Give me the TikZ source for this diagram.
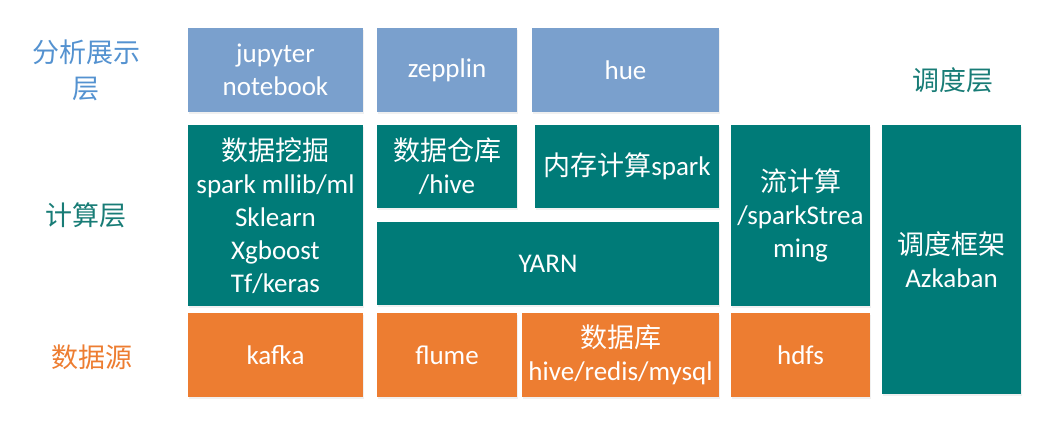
\documentclass[tikz,border=0pt]{standalone}
\usepackage{fontspec}
\setmainfont{Carlito}
\newfontfamily\cjk{Noto Sans CJK SC}
\usepackage{tikz}
\usetikzlibrary{shadows}

\definecolor{viewblue}{RGB}{122,160,205}
\definecolor{labelblue}{RGB}{84,146,208}
\definecolor{compteal}{RGB}{0,123,120}
\definecolor{labelteal}{RGB}{24,124,118}
\definecolor{srcorange}{RGB}{237,125,49}

\tikzset{
  layerbox/.style={rectangle, inner sep=0pt, align=center, text=white,
    font=\fontsize{27}{33}\selectfont,
    drop shadow={opacity=0.12, shadow xshift=1pt, shadow yshift=-2pt}},
  viewbox/.style={layerbox, fill=viewblue},
  compbox/.style={layerbox, fill=compteal},
  srcbox/.style={layerbox, fill=srcorange},
  layerlabel/.style={align=center, font=\fontsize{27}{36}\selectfont\cjk}
}

\begin{document}
\begin{tikzpicture}[x=1pt, y=-1pt]
    \useasboundingbox (0,0) rectangle (1058,429);

    % Layer labels
    \node[layerlabel, text=labelblue] (lview) at (86,70) {分析展示\\层};
    \node[layerlabel, text=labelteal] (lcomp) at (86,215) {计算层};
    \node[layerlabel, text=srcorange] (lsrc) at (92,357) {数据源};
    \node[layerlabel, text=labelteal] (lsched) at (953,80) {调度层};

    % Presentation layer
    \node[viewbox, minimum width=175pt, minimum height=84pt] (jupyter) at (275.5,70) {jupyter\\notebook};
    \node[viewbox, minimum width=140pt, minimum height=84pt] (zepplin) at (447,70) {zepplin};
    \node[viewbox, minimum width=187pt, minimum height=84pt] (hue) at (625.5,70) {hue};

    % Computing layer
    \node[compbox, minimum width=175pt, minimum height=181pt] (mining) at (275.5,215.5)
        {{\cjk 数据挖掘}\\spark mllib/ml\\Sklearn\\Xgboost\\Tf/keras};
    \node[compbox, minimum width=140pt, minimum height=83pt] (warehouse) at (447,166.5) {{\cjk 数据仓库}\\/hive};
    \node[compbox, minimum width=184pt, minimum height=83pt] (memory) at (627,166.5) {{\cjk 内存计算}spark};
    \node[compbox, minimum width=342pt, minimum height=83pt] (yarn) at (548,263.5) {YARN};
    \node[compbox, minimum width=139pt, minimum height=181pt] (stream) at (800.5,215.5)
        {{\cjk 流计算}\\/sparkStrea\\ming};

    % Scheduling layer
    \node[compbox, minimum width=139pt, minimum height=269pt] (sched) at (951.5,259.5) {{\cjk 调度框架}\\Azkaban};

    % Data source layer
    \node[srcbox, minimum width=175pt, minimum height=84pt] (kafka) at (275.5,355) {kafka};
    \node[srcbox, minimum width=140pt, minimum height=84pt] (flume) at (447,355) {flume};
    \node[srcbox, minimum width=197pt, minimum height=84pt] (db) at (620.5,355) {{\cjk 数据库}\\hive/redis/mysql};
    \node[srcbox, minimum width=139pt, minimum height=84pt] (hdfs) at (800.5,355) {hdfs};
\end{tikzpicture}
\end{document}
